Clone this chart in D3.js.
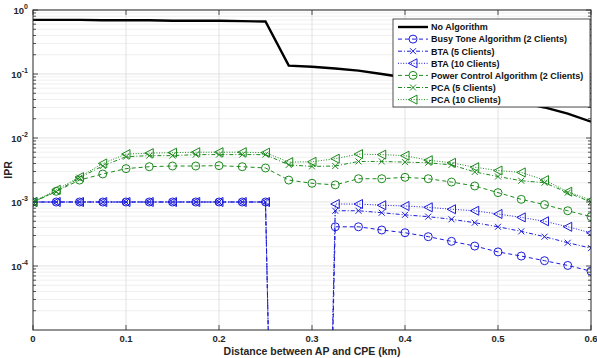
<!DOCTYPE html>
<html>
<head>
<meta charset="utf-8">
<script src="https://cdn.jsdelivr.net/npm/d3@7"></script>
<style>
    body { margin: 0; background: #fff; }
    svg { display: block; font-family: "Liberation Sans", Arial, sans-serif; }
</style>
</head>
<body>
<svg id="chart" width="597" height="358"></svg>
<script>
// distance between AP and CPE (km)
const distances = [0, 0.025, 0.05, 0.075, 0.1, 0.125, 0.15, 0.175, 0.2, 0.225, 0.25, 0.275,
    0.3, 0.325, 0.35, 0.375, 0.4, 0.425, 0.45, 0.475, 0.5, 0.525, 0.55, 0.575, 0.6];

// IPR values per series (0 = nothing on a log axis)
const noAlgorithm = [0.70, 0.70, 0.70, 0.69, 0.69, 0.69, 0.68, 0.68, 0.68, 0.67, 0.66, 0.135,
    0.13, 0.122, 0.113, 0.100, 0.088, 0.075, 0.063, 0.053, 0.044, 0.036, 0.030, 0.024, 0.018];
const bta2 = [1e-3, 1e-3, 1e-3, 1e-3, 1e-3, 1e-3, 1e-3, 1e-3, 1e-3, 1e-3, 1e-3, 0,
    0, 4.1e-4, 4.1e-4, 3.65e-4, 3.31e-4, 2.87e-4, 2.43e-4, 2.05e-4, 1.66e-4, 1.43e-4, 1.21e-4, 1.02e-4, 8.3e-5];
const bta5 = [1e-3, 1e-3, 1e-3, 1e-3, 1e-3, 1e-3, 1e-3, 1e-3, 1e-3, 1e-3, 1e-3, 0,
    0, 7.3e-4, 7.3e-4, 6.8e-4, 6.3e-4, 5.9e-4, 5.37e-4, 4.75e-4, 4.1e-4, 3.48e-4, 2.87e-4, 2.31e-4, 1.9e-4];
const bta10 = [1e-3, 1e-3, 1e-3, 1e-3, 1e-3, 1e-3, 1e-3, 1e-3, 1e-3, 1e-3, 1e-3, 0,
    0, 9.3e-4, 9.3e-4, 8.9e-4, 8.66e-4, 8.26e-4, 7.7e-4, 7.3e-4, 6.5e-4, 5.75e-4, 5.0e-4, 4.1e-4, 3.3e-4];
const pca2 = [1e-3, 1.47e-3, 2.2e-3, 2.74e-3, 3.32e-3, 3.56e-3, 3.65e-3, 3.65e-3, 3.7e-3, 3.56e-3, 3.4e-3, 2.2e-3,
    1.96e-3, 1.85e-3, 2.31e-3, 2.31e-3, 2.43e-3, 2.31e-3, 2.05e-3, 1.78e-3, 1.4e-3, 1.1e-3, 9.1e-4, 7.3e-4, 5.9e-4];
const pca5 = [1e-3, 1.45e-3, 2.4e-3, 3.65e-3, 5.1e-3, 5.3e-3, 5.3e-3, 5.5e-3, 5.5e-3, 5.5e-3, 5.5e-3, 3.8e-3,
    3.6e-3, 3.65e-3, 4.3e-3, 4.3e-3, 4.2e-3, 4.1e-3, 3.8e-3, 2.95e-3, 2.5e-3, 2.15e-3, 2.0e-3, 1.4e-3, 1.0e-3];
const pca10 = [1e-3, 1.55e-3, 2.45e-3, 4.0e-3, 5.6e-3, 5.8e-3, 5.9e-3, 6.0e-3, 6.0e-3, 6.0e-3, 5.9e-3, 4.2e-3,
    4.25e-3, 4.75e-3, 5.6e-3, 5.5e-3, 5.3e-3, 4.5e-3, 4.1e-3, 3.5e-3, 3.1e-3, 2.9e-3, 2.2e-3, 1.45e-3, 1.07e-3];

// axis ticks
const xTicks = [0, 0.1, 0.2, 0.3, 0.4, 0.5, 0.6];
const yExponents = [0, -1, -2, -3, -4];

const blue = "#1c1cdc";
const green = "#1d8a1d";

const series = [
    { name: "No Algorithm", values: noAlgorithm, color: "#000", width: 2.4, dash: null, marker: null },
    { name: "Busy Tone Algorithm (2 Clients)", values: bta2, color: blue, width: 1, dash: "4,3", marker: "circle" },
    { name: "BTA (5 Clients)", values: bta5, color: blue, width: 1, dash: "4,2,1,2", marker: "x" },
    { name: "BTA (10 Clients)", values: bta10, color: blue, width: 1, dash: "1,1.6", marker: "tri" },
    { name: "Power Control Algorithm (2 Clients)", values: pca2, color: green, width: 1, dash: "4,3", marker: "circle" },
    { name: "PCA (5 Clients)", values: pca5, color: green, width: 1, dash: "4,2,1,2", marker: "x" },
    { name: "PCA (10 Clients)", values: pca10, color: green, width: 1, dash: "1,1.6", marker: "tri" },
];

const plot = { left: 33, right: 591, top: 10, bottom: 330 };
const svg = d3.select("#chart");

// scales
const x = d3.scaleLinear().domain([0, 0.6]).range([plot.left, plot.right]);
const y = d3.scaleLog().domain([1e-5, 1]).range([plot.bottom, plot.top]);

// grid lines (minor first, then major)
const minorVals = [];
for (let e = -5; e < 0; e++) {
    for (let m = 2; m <= 9; m++) minorVals.push(m * Math.pow(10, e));
}
const grid = svg.append("g");
grid.selectAll(".minor")
    .data(minorVals)
    .join("line")
    .attr("x1", plot.left).attr("x2", plot.right)
    .attr("y1", d => y(d)).attr("y2", d => y(d))
    .attr("stroke", "#ececec").attr("stroke-width", 0.8);
grid.selectAll(".majorY")
    .data(yExponents)
    .join("line")
    .attr("x1", plot.left).attr("x2", plot.right)
    .attr("y1", d => y(Math.pow(10, d))).attr("y2", d => y(Math.pow(10, d)))
    .attr("stroke", "#dadada").attr("stroke-width", 0.8);
grid.selectAll(".majorX")
    .data(xTicks.slice(1, -1))
    .join("line")
    .attr("x1", d => x(d)).attr("x2", d => x(d))
    .attr("y1", plot.top).attr("y2", plot.bottom)
    .attr("stroke", "#dadada").attr("stroke-width", 0.8);

// clip so lines down to zero run off the bottom of the plot
svg.append("clipPath").attr("id", "clip")
    .append("rect")
    .attr("x", plot.left).attr("y", plot.top)
    .attr("width", plot.right - plot.left).attr("height", plot.bottom - plot.top);

const line = d3.line()
    .x((d, i) => x(distances[i]))
    .y(d => d > 0 ? y(d) : y(1e-20));

function drawMarker(g, type, color) {
    if (type === "circle") {
        g.append("circle").attr("r", 4).attr("fill", "none").attr("stroke", color).attr("stroke-width", 1);
    } else if (type === "x") {
        g.append("path").attr("d", "M-3,-3L3,3M-3,3L3,-3").attr("stroke", color).attr("stroke-width", 1);
    } else if (type === "tri") {
        g.append("path").attr("d", "M-4.5,0L4,-4.5L4,4.5Z").attr("fill", "none").attr("stroke", color).attr("stroke-width", 1);
    }
}

const lines = svg.append("g").attr("clip-path", "url(#clip)");
series.forEach(s => {
    lines.append("path")
        .datum(s.values)
        .attr("d", line)
        .attr("fill", "none")
        .attr("stroke", s.color)
        .attr("stroke-width", s.width)
        .attr("stroke-dasharray", s.dash);
    if (s.marker) {
        s.values.forEach((v, i) => {
            if (v <= 0) return;
            const g = lines.append("g").attr("transform", `translate(${x(distances[i])},${y(v)})`);
            drawMarker(g, s.marker, s.color);
        });
    }
});

// axes box and inward ticks on all four sides
const axisColor = "#262626";
const ticks = svg.append("g").attr("stroke", axisColor).attr("stroke-width", 0.8);
xTicks.forEach(t => {
    ticks.append("line").attr("x1", x(t)).attr("x2", x(t)).attr("y1", plot.bottom).attr("y2", plot.bottom - 5);
    ticks.append("line").attr("x1", x(t)).attr("x2", x(t)).attr("y1", plot.top).attr("y2", plot.top + 5);
});
yExponents.forEach(e => {
    const yy = y(Math.pow(10, e));
    ticks.append("line").attr("x1", plot.left).attr("x2", plot.left + 5).attr("y1", yy).attr("y2", yy);
    ticks.append("line").attr("x1", plot.right).attr("x2", plot.right - 5).attr("y1", yy).attr("y2", yy);
});
minorVals.forEach(v => {
    const yy = y(v);
    ticks.append("line").attr("x1", plot.left).attr("x2", plot.left + 3).attr("y1", yy).attr("y2", yy);
    ticks.append("line").attr("x1", plot.right).attr("x2", plot.right - 3).attr("y1", yy).attr("y2", yy);
});
svg.append("rect")
    .attr("x", plot.left).attr("y", plot.top)
    .attr("width", plot.right - plot.left).attr("height", plot.bottom - plot.top)
    .attr("fill", "none").attr("stroke", axisColor).attr("stroke-width", 1);

// tick labels
svg.selectAll(".xlabel")
    .data(xTicks)
    .join("text")
    .attr("x", d => x(d)).attr("y", plot.bottom + 12)
    .attr("text-anchor", "middle")
    .attr("font-size", 9.5).attr("font-weight", "bold").attr("fill", axisColor)
    .text(d => d3.format("~g")(d));

const ylab = svg.selectAll(".ylabel")
    .data(yExponents)
    .join("text")
    .attr("x", 28).attr("y", d => y(Math.pow(10, d)) + 3.5)
    .attr("text-anchor", "end")
    .attr("font-size", 9.5).attr("font-weight", "bold").attr("fill", axisColor);
ylab.append("tspan").text("10");
ylab.append("tspan").attr("dy", -5).attr("font-size", 7).text(d => d);

// axis titles
svg.append("text")
    .attr("x", (plot.left + plot.right) / 2).attr("y", 355)
    .attr("text-anchor", "middle")
    .attr("font-size", 10.5).attr("font-weight", "bold").attr("fill", axisColor)
    .text("Distance between AP and CPE (km)");
svg.append("text")
    .attr("transform", `translate(12,${(plot.top + plot.bottom) / 2}) rotate(-90)`)
    .attr("text-anchor", "middle")
    .attr("font-size", 10.5).attr("font-weight", "bold").attr("fill", axisColor)
    .text("IPR");

// legend
const legend = svg.append("g").attr("transform", "translate(393,19)");
legend.append("rect")
    .attr("width", 197).attr("height", 88)
    .attr("fill", "#fff").attr("stroke", axisColor).attr("stroke-width", 0.8);
series.forEach((s, i) => {
    const ly = 8 + i * 12.1;
    const row = legend.append("g").attr("transform", `translate(0,${ly})`);
    row.append("line")
        .attr("x1", 5).attr("x2", 35)
        .attr("stroke", s.color).attr("stroke-width", s.width)
        .attr("stroke-dasharray", s.dash);
    if (s.marker) {
        drawMarker(row.append("g").attr("transform", "translate(20,0)"), s.marker, s.color);
    }
    row.append("text")
        .attr("x", 38).attr("y", 3.3)
        .attr("font-size", 9).attr("font-weight", "bold").attr("fill", "#111")
        .text(s.name);
});
</script>
</body>
</html>
